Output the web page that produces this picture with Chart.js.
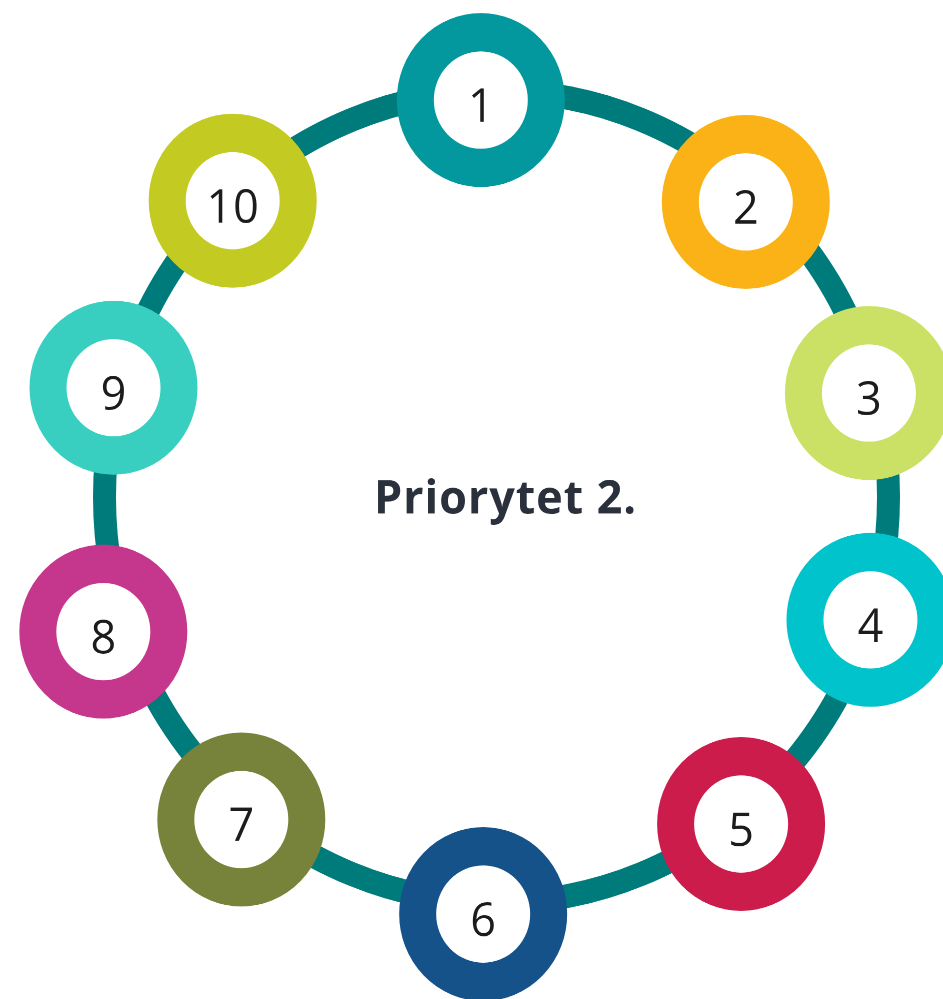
<!DOCTYPE html>
<html>
<head>
<meta charset="utf-8">
<script src="https://cdn.jsdelivr.net/npm/chart.js@4.4.1/dist/chart.umd.min.js"></script>
<style>
  html, body { margin: 0; padding: 0; background: #ffffff; overflow: hidden; }
  #wrap { position: absolute; left: 0; top: 0; width: 943px; height: 965px;
          transform-origin: 0 0; transform: scale(1, 1.0352); }
  canvas { display: block; }
</style>
</head>
<body>
<div id="wrap"><canvas id="c" width="943" height="965" style="width:943px;height:965px"></canvas></div>
<script>
// ---- data (diagram units: ring centre = 0,0, ring radius = 100) ----
const categories = ['1', '2', '3', '4', '5', '6', '7', '8', '9', '10'];
const circleX = [-4.0, 63.6, 95.0, 95.4, 62.4, -3.4, -65.1, -100.3, -97.7, -67.3];
const circleY = [97.8, 72.7, 25.6, -30.3, -80.6, -102.8, -79.5, -33.2, 26.9, 73.0];
const circleColors = ['#03989e', '#fbb216', '#cae165', '#00c3cc', '#cc1c4c',
                      '#16528a', '#77833b', '#c4378c', '#38cfc1', '#c3ca22'];
const ringRadius = 100;
const centerTitle = 'Priorytet 2.';
const ringColor = '#007b7b';

const ringPlugin = {
  id: 'ring',
  beforeDatasetsDraw(chart) {
    const xs = chart.scales.x, ys = chart.scales.y;
    const cx = xs.getPixelForValue(0), cy = ys.getPixelForValue(0);
    const r = xs.getPixelForValue(ringRadius) - cx;
    const ctx = chart.ctx;
    ctx.save();
    ctx.beginPath();
    ctx.arc(cx, cy, r, 0, Math.PI * 2);
    ctx.strokeStyle = ringColor;
    ctx.lineWidth = 23;
    ctx.stroke();
    ctx.restore();
  },
  afterDatasetsDraw(chart) {
    const ctx = chart.ctx;
    const meta = chart.getDatasetMeta(0);
    ctx.save();
    ctx.fillStyle = '#1c1c1c';
    ctx.font = '400 45px "Open Sans"';
    ctx.textAlign = 'center';
    ctx.textBaseline = 'alphabetic';
    try { ctx.letterSpacing = '1px'; } catch (e) {}
    meta.data.forEach((el, i) => {
      ctx.fillText(categories[i], el.x + 0.5, el.y + 21);
    });
    const xs = chart.scales.x, ys = chart.scales.y;
    ctx.fillStyle = '#2a303c';
    ctx.font = '700 45px "Open Sans"';
    try { ctx.letterSpacing = '0.9px'; } catch (e) {}
    ctx.fillText(centerTitle, xs.getPixelForValue(0) + 9, ys.getPixelForValue(0) + 16);
    ctx.restore();
  }
};

function build() {
  new Chart(document.getElementById('c'), {
    type: 'scatter',
    data: {
      labels: categories,
      datasets: [{
        data: circleX.map((x, i) => ({ x: x, y: circleY[i] })),
        clip: false,
        showLine: false,
        pointStyle: 'circle',
        pointRadius: 65.5,
        pointHoverRadius: 65.5,
        pointBorderWidth: 37,
        pointHoverBorderWidth: 37,
        pointBackgroundColor: '#ffffff',
        pointHoverBackgroundColor: '#ffffff',
        pointBorderColor: circleColors,
        pointHoverBorderColor: circleColors
      }]
    },
    options: {
      responsive: false,
      maintainAspectRatio: false,
      devicePixelRatio: 2,
      animation: false,
      events: [],
      layout: { autoPadding: false, padding: { left: 6.5, right: 15.3, top: 9.6, bottom: 14.6 } },
      plugins: { legend: { display: false }, tooltip: { enabled: false } },
      scales: {
        x: { type: 'linear', bounds: 'data', min: -125, max: 110, display: false },
        y: { type: 'linear', bounds: 'data', min: -120, max: 120, display: false }
      }
    },
    plugins: [ringPlugin]
  });
}

if (document.fonts && document.fonts.load) {
  Promise.all([
    document.fonts.load('400 45px "Open Sans"'),
    document.fonts.load('700 45px "Open Sans"')
  ]).then(build, build);
} else {
  build();
}
</script>
</body>
</html>
